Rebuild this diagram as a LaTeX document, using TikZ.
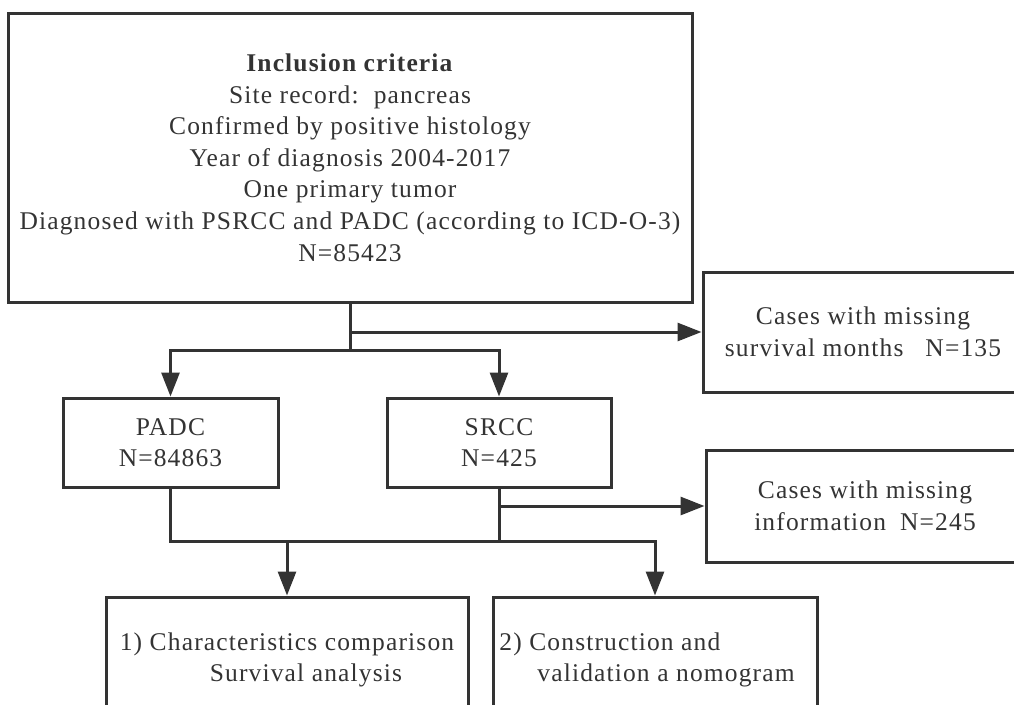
\documentclass[tikz,border=0pt]{standalone}
\usepackage{fontspec}
\setmainfont{Liberation Serif}[LetterSpace=4.5]
\usepackage{tikz}
\usetikzlibrary{arrows.meta}
\definecolor{ink}{HTML}{333333}
\tikzstyle{box}=[draw=ink, line width=3pt, rectangle, inner sep=0pt, align=center, text=ink, font=\fontsize{25.5}{31.6}\selectfont]
\tikzstyle{link}=[draw=ink, line width=3pt]
\tikzstyle{arr}=[link, -{Triangle[length=24pt,width=18pt]}]

\begin{document}
\begin{tikzpicture}
        [x=1pt,y=-1pt]
            \clip (0,0) rectangle (1014,704);
            \node [box, minimum width=684pt, minimum height=289pt] (incl) at (350,157.5) {\textbf{Inclusion criteria}\\Site record:\ \ pancreas\\Confirmed by positive histology\\Year of diagnosis 2004-2017\\One primary tumor\\Diagnosed with PSRCC and PADC (according to ICD-O-3)\\N=85423};
            \node [box, minimum width=320pt, minimum height=120pt] (miss1) at (863,332) {Cases with missing\\survival months\hspace{22pt}N=135};
            \node [box, minimum width=215pt, minimum height=89pt] (padc) at (170.5,442.5) {PADC\\N=84863};
            \node [box, minimum width=224pt, minimum height=89pt] (srcc) at (499,442.5) {SRCC\\N=425};
            \node [box, minimum width=318pt, minimum height=112pt] (miss2) at (865,506) {Cases with missing\\information\hspace{14pt}N=245};
            \node [box, minimum width=362pt, minimum height=126pt, align=left] (res1) at (287,660) {1) Characteristics comparison\\\hspace*{90pt}Survival analysis};
            \node [box, minimum width=324pt, minimum height=126pt, align=left] (res2) at (655,660) {2) Construction and\\\hspace*{38pt}validation a nomogram\hspace*{16pt}};
            \coordinate (fork) at (350,350);
            \coordinate (merge) at (0,541);
            \draw [link] (incl.south) -- (fork);
            \draw [arr] (fork) -| (padc.north);
            \draw [arr] (fork) -| (srcc.north);
            \draw [arr] (incl.south |- miss1.west) -- (miss1.west);
            \draw [arr] (padc.south) |- (res2.north |- merge) -- (res2.north);
            \draw [link] (srcc.south) -- (srcc.south |- merge);
            \draw [arr] (res1.north |- merge) -- (res1.north);
            \draw [arr] (srcc.south |- miss2.west) -- (miss2.west);
        \end{tikzpicture}
\end{document}
